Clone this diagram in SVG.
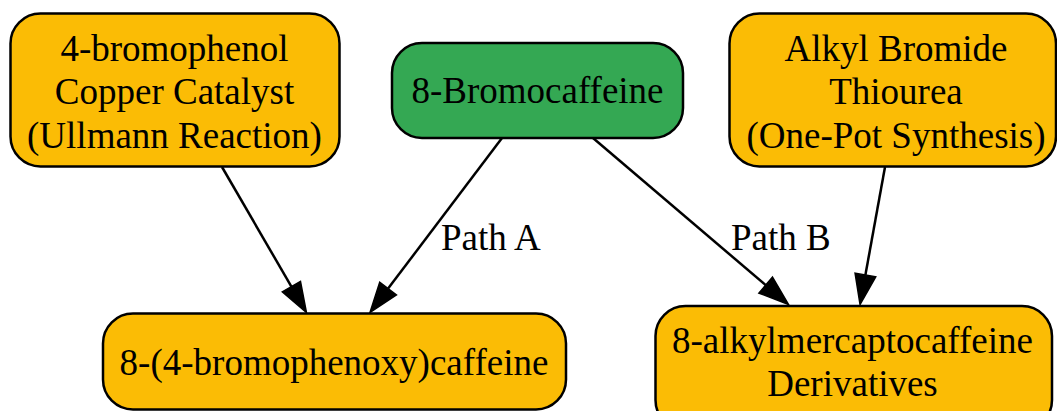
<svg xmlns="http://www.w3.org/2000/svg" width="1057" height="411" viewBox="0 0 1057 411">
<style>
.node rect{stroke:#000;stroke-width:2.5}
.y{fill:#FBBC05}
.g{fill:#34A853}
text{font-family:"Liberation Serif","Times New Roman",serif;font-size:37px;fill:#000}
.c{text-anchor:middle}
.edge{stroke:#000;stroke-width:2.5;fill:none}
</style>
<defs>
<marker id="arr" markerUnits="userSpaceOnUse" markerWidth="31" markerHeight="22" refX="0" refY="10.5" orient="auto" overflow="visible">
<path d="M0,0 L30,10.5 L0,21 Z" fill="#000" stroke="#000" stroke-width="1.5" stroke-linejoin="miter"/>
</marker>
</defs>
<g id="edges">
<line class="edge" x1="222" y1="167" x2="291.4" y2="286.6" marker-end="url(#arr)"/>
<line class="edge" x1="502" y1="138" x2="388.1" y2="288.6" marker-end="url(#arr)"/>
<line class="edge" x1="593" y1="138" x2="765.7" y2="285.1" marker-end="url(#arr)"/>
<line class="edge" x1="885" y1="167" x2="865.4" y2="275" marker-end="url(#arr)"/>
<text x="441" y="250">Path A</text>
<text x="731" y="250">Path B</text>
</g>
<g id="n1" class="node">
<rect class="y" x="10.5" y="13.5" width="329" height="153" rx="30"/>
<text class="c" x="174.5" y="61">4-bromophenol</text>
<text class="c" x="174.5" y="104.3">Copper Catalyst</text>
<text class="c" x="174.5" y="147.6">(Ullmann Reaction)</text>
</g>
<g id="n2" class="node">
<rect class="g" x="392" y="43" width="291" height="95" rx="30"/>
<text class="c" x="537.5" y="103">8-Bromocaffeine</text>
</g>
<g id="n3" class="node">
<rect class="y" x="729.5" y="13.5" width="326.5" height="153" rx="30"/>
<text class="c" x="896" y="61">Alkyl Bromide</text>
<text class="c" x="896" y="104.3">Thiourea</text>
<text class="c" x="896" y="147.6">(One-Pot Synthesis)</text>
</g>
<g id="n4" class="node">
<rect class="y" x="103" y="313.5" width="463" height="96" rx="30"/>
<text class="c" x="334" y="375">8-(4-bromophenoxy)caffeine</text>
</g>
<g id="n5" class="node">
<rect class="y" x="655.5" y="306" width="396.5" height="124" rx="30"/>
<text class="c" x="852.5" y="353">8-alkylmercaptocaffeine</text>
<text class="c" x="852.5" y="396">Derivatives</text>
</g>
</svg>
